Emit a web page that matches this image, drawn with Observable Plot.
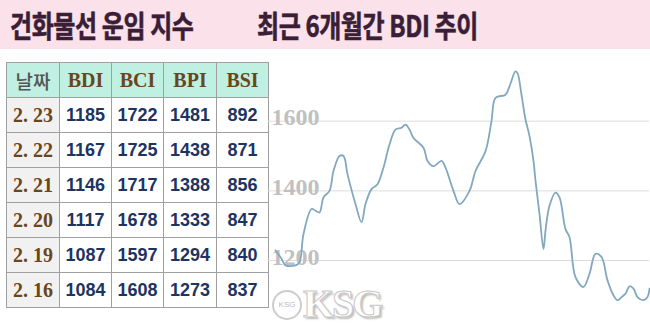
<!DOCTYPE html>
<html><head><meta charset="utf-8">
<script src="https://cdn.jsdelivr.net/npm/d3@7"></script>
<script src="https://cdn.jsdelivr.net/npm/@observablehq/plot@0.6"></script>
<style>
html,body{margin:0;padding:0;background:#fff;width:650px;height:326px;overflow:hidden;position:relative;font-family:"Noto Sans CJK KR","Noto Sans",sans-serif;}
#bar{position:absolute;left:0;top:0;width:650px;height:49px;background:#fbe1e9;}
.ttl{position:absolute;top:2px;font-family:"Noto Sans CJK KR";font-weight:700;font-size:30px;line-height:44px;color:#3a1d36;transform-origin:left top;transform:scaleX(0.8);white-space:nowrap;letter-spacing:-0.5px;-webkit-text-stroke:0.6px #3a1d36;}
#tbl{position:absolute;left:6px;top:62px;border-collapse:collapse;}
#tbl td,#tbl th{border:1.5px solid #a0a0a0;height:34px;padding:0;text-align:center;}
#tbl th{background:#bff0e1;font-family:"Liberation Serif",serif;font-weight:bold;font-size:20px;color:#6a461c;}
#tbl th.first{font-family:"Noto Sans CJK KR";font-weight:500;color:#555;font-size:19px;}
#tbl td{font-family:"Liberation Sans",Arial,sans-serif;font-weight:bold;font-size:18px;color:#1d3461;}
#tbl td.date{background:#f1f1f1;font-family:"Liberation Serif",serif;color:#6a461c;font-size:20px;}
#chart{position:absolute;left:265px;top:50px;}
#wm{position:absolute;left:303px;top:284px;font-family:"Liberation Serif",serif;font-weight:bold;font-size:40px;line-height:40px;color:#fff;-webkit-text-stroke:1px #c8c8c8;text-shadow:2px 2px 2px #bbb;letter-spacing:-2px;}
#wmlogo{position:absolute;left:272px;top:290px;width:26px;height:26px;border-radius:50%;border:2px solid #ccc;background:#fff;font-size:8px;color:#bbb;text-align:center;line-height:26px;font-family:"Liberation Sans";}
</style></head>
<body>
<div id="bar"></div>
<div class="ttl" style="left:10px;">건화물선 운임 지수</div>
<div class="ttl" style="left:257px;">최근 6개월간 BDI 추이</div>
<table id="tbl"></table>
<div id="chart"></div>
<div id="wmlogo">KSG</div>
<div id="wm">KSG</div>
<script>
// Table data
const tableHeaders = ["날짜", "BDI", "BCI", "BPI", "BSI"];
const tableDates = ["2. 23", "2. 22", "2. 21", "2. 20", "2. 19", "2. 16"];
const bdiTable = [1185, 1167, 1146, 1117, 1087, 1084];
const bciTable = [1722, 1725, 1717, 1678, 1597, 1608];
const bpiTable = [1481, 1438, 1388, 1333, 1294, 1273];
const bsiTable = [892, 871, 856, 847, 840, 837];

// Chart data: day index over the last 6 months, BDI value
const days = [0,3,5,10,12,14,18,20,22,24,27,29,32,34,36,40,43,45,48,51,54,57,60,63,65,67,69,74,76,79,83,85,89,92,97,100,105,108,110,115,117,120,121,123,125,127,129,130,132,134,135,137,140,142,145,147,150,154,157,160,163,166,169,171,173,175,177,179,181,184,186,187];
const bdi = [1229,1205,1186,1186,1195,1276,1348,1343,1338,1381,1400,1457,1500,1500,1448,1362,1310,1362,1405,1419,1467,1533,1576,1581,1590,1576,1552,1524,1486,1471,1486,1467,1400,1362,1400,1457,1514,1600,1667,1676,1700,1743,1738,1676,1605,1557,1486,1429,1333,1233,1286,1357,1395,1381,1290,1267,1152,1124,1162,1219,1210,1143,1100,1086,1095,1105,1126,1119,1095,1086,1095,1119];
const yTicks = [1200, 1400, 1600];

// build table
const tbl = document.getElementById("tbl");
const widths = [52, 51, 51, 52, 51];
let hr = "<tr>" + tableHeaders.map((h, i) => `<th class="${i===0?'first':''}" style="width:${widths[i]}px">${h}</th>`).join("") + "</tr>";
let rows = tableDates.map((d, i) => `<tr><td class="date">${d}</td><td>${bdiTable[i]}</td><td>${bciTable[i]}</td><td>${bpiTable[i]}</td><td>${bsiTable[i]}</td></tr>`).join("");
tbl.innerHTML = hr + rows;

const data = days.map((d, i) => ({day: d, value: bdi[i]}));

const chart = Plot.plot({
  width: 385,
  height: 276,
  marginLeft: 3,
  marginRight: 1,
  marginTop: 0,
  marginBottom: 0,
  x: {domain: [-3.5, 187], axis: null},
  y: {domain: [1010.5, 1803], axis: null},
  marks: [
    Plot.ruleY(yTicks, {stroke: "#dcdcdc", strokeWidth: 1}),
    Plot.text(yTicks, {y: d => d, text: d => String(d), frameAnchor: "left", textAnchor: "start", lineAnchor: "bottom", dx: 3, dy: 4, fill: "#c0c0c0", fontSize: 24, fontWeight: "bold", fontFamily: "Liberation Serif, serif"}),
    Plot.line(data, {x: "day", y: "value", curve: "catmull-rom", stroke: "#82a8c0", strokeWidth: 1.8})
  ]
});
document.getElementById("chart").appendChild(chart);
</script>
</body></html>
